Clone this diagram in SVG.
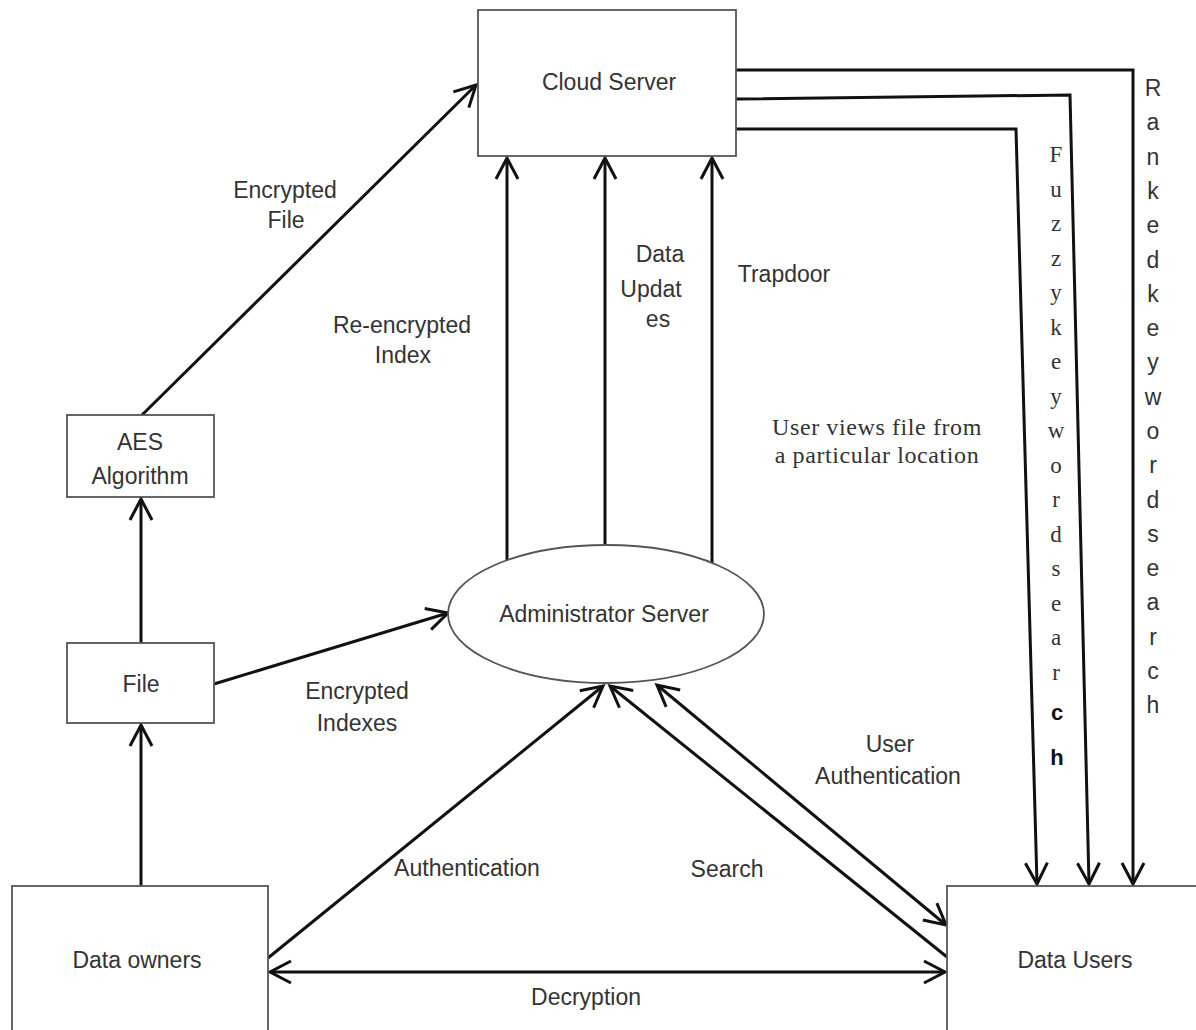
<svg xmlns="http://www.w3.org/2000/svg" width="1196" height="1030" viewBox="0 0 1196 1030">
<style>
.box{fill:#fff;stroke:#555;stroke-width:1.8}
.ln{fill:none;stroke:#111;stroke-width:3}
.t{font-family:"Liberation Sans",Arial,sans-serif;font-size:23px;fill:#333;text-anchor:middle}
.s{font-family:"Liberation Serif","Times New Roman",serif;font-size:23px;fill:#333;text-anchor:middle}
.sv{font-family:"Liberation Serif","Times New Roman",serif;font-size:24px;letter-spacing:0.6px;fill:#333;text-anchor:middle}
.b{font-family:"Liberation Sans",Arial,sans-serif;font-size:22px;font-weight:bold;fill:#111;text-anchor:middle}
</style>
<defs>
<marker id="a" viewBox="0 0 26 26" refX="23" refY="13" markerWidth="26" markerHeight="26" markerUnits="userSpaceOnUse" orient="auto-start-reverse" overflow="visible">
<path d="M2,2 L23,13 L2,24" fill="none" stroke="#111" stroke-width="3"/>
</marker>
</defs>
<rect width="1196" height="1030" fill="#fff"/>
<g id="connectors">
<line class="ln" x1="141" y1="886" x2="141" y2="725" marker-end="url(#a)"/>
<line class="ln" x1="141" y1="643" x2="141" y2="499" marker-end="url(#a)"/>
<line class="ln" x1="142" y1="415" x2="476" y2="85" marker-end="url(#a)"/>
<line class="ln" x1="214" y1="684" x2="448" y2="613" marker-end="url(#a)"/>
<line class="ln" x1="507" y1="560" x2="507" y2="158" marker-end="url(#a)"/>
<line class="ln" x1="605" y1="545" x2="605" y2="158" marker-end="url(#a)"/>
<line class="ln" x1="712" y1="563" x2="712" y2="158" marker-end="url(#a)"/>
<line class="ln" x1="268" y1="958" x2="603" y2="686" marker-end="url(#a)"/>
<line class="ln" x1="947" y1="957" x2="610" y2="686" marker-end="url(#a)"/>
<line class="ln" x1="657" y1="685" x2="946" y2="925" marker-start="url(#a)" marker-end="url(#a)"/>
<line class="ln" x1="270" y1="972" x2="945" y2="972" marker-start="url(#a)" marker-end="url(#a)"/>
<polyline class="ln" points="736,70 1133,70 1133,884" marker-end="url(#a)"/>
<polyline class="ln" points="736,99 1070,95 1089,884" marker-end="url(#a)"/>
<polyline class="ln" points="736,129 1016,129 1037,884" marker-end="url(#a)"/>
</g>
<g id="cloud-server">
<rect class="box" x="478" y="10" width="258" height="146"/>
<text class="t" x="609" y="90">Cloud Server</text>
</g>
<g id="aes">
<rect class="box" x="67" y="415" width="147" height="82"/>
<text class="t" x="140" y="450">AES</text>
<text class="t" x="140" y="484">Algorithm</text>
</g>
<g id="file">
<rect class="box" x="67" y="643" width="147" height="80"/>
<text class="t" x="141" y="692">File</text>
</g>
<g id="admin-server">
<ellipse class="box" cx="606" cy="614" rx="158" ry="69"/>
<text class="t" x="604" y="622">Administrator Server</text>
</g>
<g id="data-owners">
<rect class="box" x="12" y="886" width="256" height="160"/>
<text class="t" x="137" y="968">Data owners</text>
</g>
<g id="data-users">
<rect class="box" x="947" y="886" width="260" height="160"/>
<text class="t" x="1075" y="968">Data Users</text>
</g>
<g id="labels">
<text class="t" x="285" y="198">Encrypted</text>
<text class="t" x="286" y="228">File</text>
<text class="t" x="402" y="333">Re-encrypted</text>
<text class="t" x="403" y="363">Index</text>
<text class="t" x="660" y="262">Data</text>
<text class="t" x="651" y="297">Updat</text>
<text class="t" x="658" y="327">es</text>
<text class="t" x="784" y="282">Trapdoor</text>
<text class="sv" x="877" y="435">User views file from</text>
<text class="sv" x="877" y="463">a particular location</text>
<text class="t" x="357" y="699">Encrypted</text>
<text class="t" x="357" y="731">Indexes</text>
<text class="t" x="890" y="752">User</text>
<text class="t" x="888" y="784">Authentication</text>
<text class="t" x="467" y="876">Authentication</text>
<text class="t" x="727" y="877">Search</text>
<text class="t" x="586" y="1005">Decryption</text>
<text class="s" x="1056" y="162" font-size="22"><tspan x="1056">F</tspan><tspan x="1056" dy="34.5">u</tspan><tspan x="1056" dy="34.5">z</tspan><tspan x="1056" dy="34.5">z</tspan><tspan x="1056" dy="34.5">y</tspan><tspan x="1056" dy="34.5">k</tspan><tspan x="1056" dy="34.5">e</tspan><tspan x="1056" dy="34.5">y</tspan><tspan x="1056" dy="34.5">w</tspan><tspan x="1056" dy="34.5">o</tspan><tspan x="1056" dy="34.5">r</tspan><tspan x="1056" dy="34.5">d</tspan><tspan x="1056" dy="34.5">s</tspan><tspan x="1056" dy="34.5">e</tspan><tspan x="1056" dy="34.5">a</tspan><tspan x="1056" dy="34.5">r</tspan></text>
<text class="b" x="1057" y="720">c</text>
<text class="b" x="1057" y="765">h</text>
<text class="t" x="1153" y="96"><tspan x="1153">R</tspan><tspan x="1153" dy="34.3">a</tspan><tspan x="1153" dy="34.3">n</tspan><tspan x="1153" dy="34.3">k</tspan><tspan x="1153" dy="34.3">e</tspan><tspan x="1153" dy="34.3">d</tspan><tspan x="1153" dy="34.3">k</tspan><tspan x="1153" dy="34.3">e</tspan><tspan x="1153" dy="34.3">y</tspan><tspan x="1153" dy="34.3">w</tspan><tspan x="1153" dy="34.3">o</tspan><tspan x="1153" dy="34.3">r</tspan><tspan x="1153" dy="34.3">d</tspan><tspan x="1153" dy="34.3">s</tspan><tspan x="1153" dy="34.3">e</tspan><tspan x="1153" dy="34.3">a</tspan><tspan x="1153" dy="34.3">r</tspan><tspan x="1153" dy="34.3">c</tspan><tspan x="1153" dy="34.3">h</tspan></text>
</g>
</svg>
